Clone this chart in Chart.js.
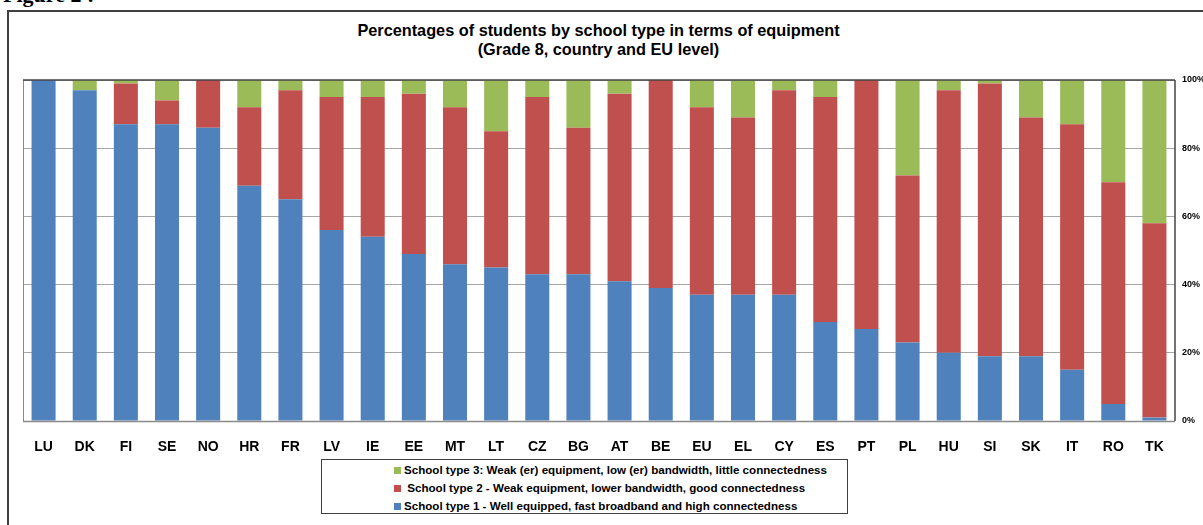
<!DOCTYPE html>
<html>
<head>
<meta charset="utf-8">
<script src="https://cdn.jsdelivr.net/npm/chart.js@4/dist/chart.umd.min.js"></script>
<style>
  html, body { margin: 0; padding: 0; background: #fff; overflow: hidden; }
  body { width: 1203px; height: 525px; position: relative; font-family: "Liberation Sans", Arial, sans-serif; }
  #fig { position: absolute; left: 3px; top: -16px; font-family: "Liberation Serif", "Times New Roman", serif; font-weight: bold; font-size: 22px; line-height: 22px; color: #000; white-space: nowrap; }
  #frame { position: absolute; left: 7px; top: 10px; width: 1210px; height: 530px; border: 2px solid #404040; box-sizing: border-box; }
  #title { position: absolute; left: 0; width: 1197px; top: 21px; text-align: center; font-weight: bold; font-size: 16.3px; line-height: 19px; color: #000; }
  #wrap { position: absolute; left: 0; top: 0; width: 1203px; height: 525px; }
  #legend { position: absolute; left: 321px; top: 459px; width: 527px; height: 55px; border: 1px solid #404040; box-sizing: border-box; background: #fff; }
  .li { position: absolute; left: 72px; font-weight: bold; font-size: 11.6px; line-height: 14px; color: #000; white-space: nowrap; }
  .sw { display: inline-block; width: 7px; height: 7px; margin-right: 3px; vertical-align: 0px; }
</style>
</head>
<body>
<div id="fig">Figure 2 :</div>
<div id="frame"></div>
<div id="title">Percentages of students by school type in terms of equipment<br>(Grade 8, country and EU level)</div>
<div id="wrap"><canvas id="c" width="1203" height="525"></canvas></div>
<div id="legend"></div>
<script>
const categories = ['LU','DK','FI','SE','NO','HR','FR','LV','IE','EE','MT','LT','CZ','BG','AT','BE','EU','EL','CY','ES','PT','PL','HU','SI','SK','IT','RO','TK'];
const type1 = [100,97,87,87,86,69,65,56,54,49,46,45,43,43,41,39,37,37,37,29,27,23,20,19,19,15,5,1];
const type2 = [0,0,12,7,14,23,32,39,41,47,46,40,52,43,55,61,55,52,60,66,73,49,77,80,70,72,65,57];
const type3 = [0,3,1,6,0,8,3,5,5,4,8,15,5,14,4,0,8,11,3,5,0,28,3,1,11,13,30,42];
const seriesNames = [
  'School type 1 - Well equipped, fast broadband and high connectedness',
  ' School type 2 - Weak equipment, lower bandwidth, good connectedness',
  'School type 3: Weak (er) equipment, low (er) bandwidth, little connectedness'
];
const tickValues = [0,20,40,60,80,100];
const colors = ['#4F81BD','#C0504D','#9BBB59'];

const frameBox = {
  id: 'frameBox',
  afterDraw(chart) {
    const a = chart.chartArea, ctx = chart.ctx;
    ctx.save();
    ctx.lineWidth = 1;
    ctx.strokeStyle = '#8a8a8a';
    ctx.beginPath(); ctx.moveTo(a.left + 0.5, a.top); ctx.lineTo(a.left + 0.5, a.bottom); ctx.stroke();
    ctx.lineWidth = 1.5;
    ctx.beginPath(); ctx.moveTo(a.left, a.bottom + 0.5); ctx.lineTo(a.right, a.bottom + 0.5); ctx.stroke();
    ctx.strokeStyle = '#444';
    ctx.beginPath(); ctx.moveTo(a.left, a.top); ctx.lineTo(a.right, a.top); ctx.stroke();
    ctx.beginPath(); ctx.moveTo(a.right, a.top); ctx.lineTo(a.right, a.bottom); ctx.stroke();
    ctx.restore();
  }
};

new Chart(document.getElementById('c'), {
  type: 'bar',
  data: {
    labels: categories,
    datasets: [
      { label: seriesNames[0], data: type1, backgroundColor: colors[0] },
      { label: seriesNames[1], data: type2, backgroundColor: colors[1] },
      { label: seriesNames[2], data: type3, backgroundColor: colors[2] }
    ]
  },
  options: {
    responsive: false,
    animation: false,
    layout: { padding: { left: 23, top: 80, right: 0, bottom: 0 } },
    datasets: { bar: { categoryPercentage: 1, barPercentage: 0.584, borderWidth: 0 } },
    plugins: { legend: { display: false }, title: { display: false }, tooltip: { enabled: false } },
    scales: {
      x: {
        stacked: true,
        grid: { display: false, drawTicks: false },
        border: { display: false },
        ticks: { color: '#000', font: { family: '"Liberation Sans", Arial, sans-serif', size: 14, weight: 'bold' }, padding: 18, maxRotation: 0, autoSkip: false },
        afterFit(s) { s.height = 104; }
      },
      y: {
        stacked: true,
        position: 'right',
        min: 0, max: 100,
        afterBuildTicks(s) { s.ticks = tickValues.map(v => ({ value: v })); },
        grid: { color: '#a6a6a6', lineWidth: 1, drawTicks: false },
        border: { display: false },
        ticks: { color: '#000', font: { family: '"Liberation Sans", Arial, sans-serif', size: 9, weight: 'bold' }, padding: 7, callback: v => v + '%' },
        afterFit(s) { s.width = 28; }
      }
    }
  },
  plugins: [frameBox]
});

const legend = document.getElementById('legend');
const order = [2, 1, 0];
const tops = [3, 21, 39];
order.forEach((i, k) => {
  const d = document.createElement('div');
  d.className = 'li';
  d.style.top = tops[k] + 'px';
  const sw = document.createElement('span');
  sw.className = 'sw';
  sw.style.background = colors[i];
  d.appendChild(sw);
  d.appendChild(document.createTextNode(seriesNames[i]));
  legend.appendChild(d);
});
</script>
</body>
</html>
